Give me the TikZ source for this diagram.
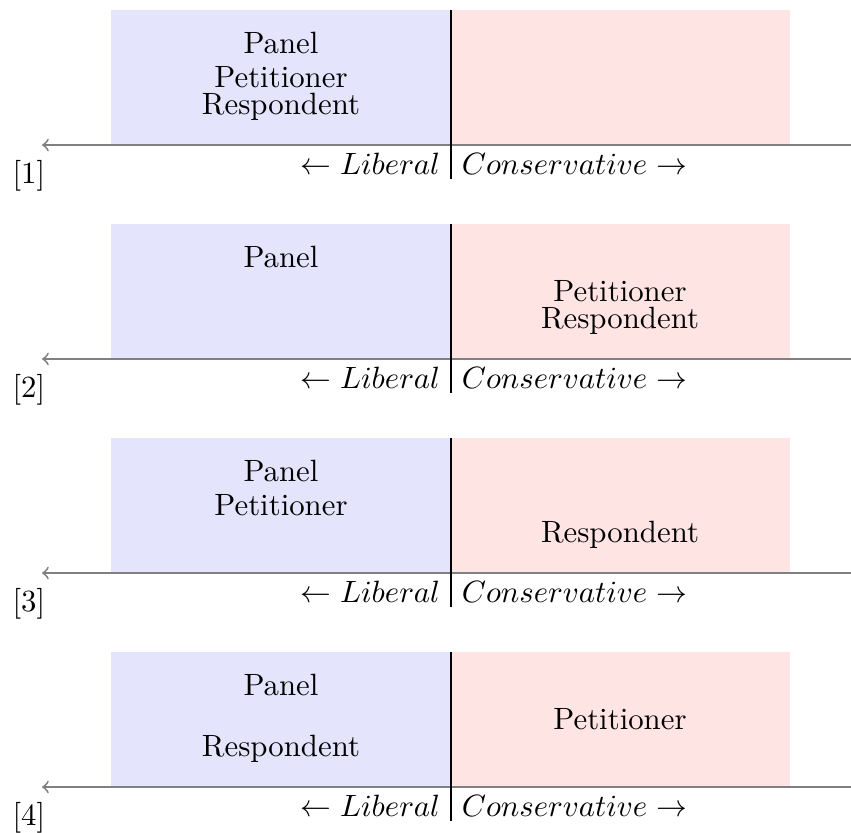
\documentclass[tikz,border=0pt]{standalone}
\definecolor{libfill}{RGB}{228,228,252}
\definecolor{consfill}{RGB}{255,228,228}
\tikzset{
  axisline/.style={draw=gray, semithick},
  divider/.style={draw=black, semithick},
  lbl/.style={inner sep=0pt, anchor=base},
  sidelbl/.style={inner sep=3.33pt},
  numlbl/.style={inner sep=0pt, anchor=base west}
}
\begin{document}
\begin{tikzpicture}[x=0.3247pt,y=-0.3247pt]
\useasboundingbox (0,0) rectangle (851,832);
\foreach \k/\ly/\pa/\pe/\re in {1/145/281/281/281, 2/359/281/620/620, 3/573/281/281/620, 4/787/281/620/281} {
  \fill[libfill] (111,\ly-135) rectangle (451,\ly);
  \fill[consfill] (451,\ly-135) rectangle (790,\ly);
  \coordinate (tip\k) at (42,\ly);
  \coordinate (end\k) at (851,\ly);
  \draw[axisline,<-] (tip\k) -- (end\k);
  \coordinate (top\k) at (451,\ly-135);
  \coordinate (bot\k) at (451,\ly+34);
  \draw[divider] (top\k) -- (bot\k);
  \node[lbl] (panel\k) at (\pa,\ly-92) {Panel};
  \node[lbl] (pet\k) at (\pe,\ly-58) {Petitioner};
  \node[lbl] (resp\k) at (\re,\ly-31) {Respondent};
  \node[sidelbl, anchor=base east] (lib\k) at (451,\ly+29) {$\leftarrow Liberal$};
  \node[sidelbl, anchor=base west] (con\k) at (451,\ly+29) {$Conservative \rightarrow$};
  \node[numlbl] (num\k) at (12,\ly+38) {[\k]};
}
\end{tikzpicture}
\end{document}
